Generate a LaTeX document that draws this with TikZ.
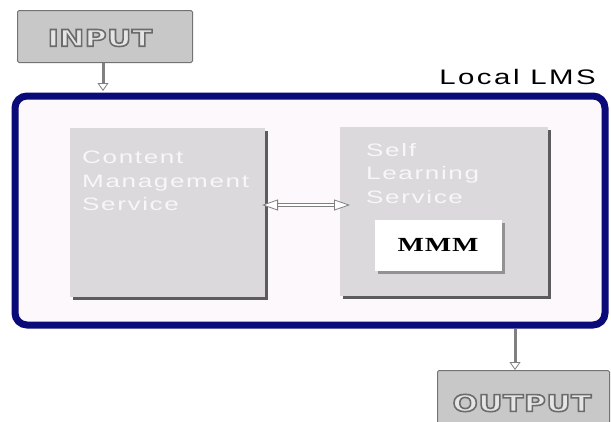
\documentclass[tikz,border=0pt]{standalone}
\usepackage{fontspec}
\setmainfont{Liberation Sans}
\newfontfamily\widefont[FakeStretch=1.4,LetterSpace=12]{Liberation Sans}
\newfontfamily\svcfont[FakeStretch=1.45,LetterSpace=9]{Liberation Sans}
\newfontfamily\iofont[FakeStretch=1.3,LetterSpace=2]{DejaVu Sans}
\newfontfamily\serifb[FakeStretch=1.4,LetterSpace=4]{Liberation Serif}
\newcommand{\outlinetext}[1]{\special{pdf:literal direct 2 Tr 1.6 w 0.42 G}#1\special{pdf:literal direct 0 Tr 0 G}}
\usetikzlibrary{arrows.meta,shadows}
\definecolor{navy}{HTML}{0A0A78}
\definecolor{boxgray}{HTML}{DCD9DC}
\definecolor{iogray}{HTML}{C8C8C8}
\definecolor{lmsfill}{HTML}{FDF8FB}
\tikzset{
  svcbox/.style={draw=none, fill=boxgray, drop shadow={shadow xshift=2.5pt, shadow yshift=-2.5pt, fill=black!70, opacity=0.9}},
  iobox/.style={draw=black!55, line width=1pt, fill=iogray, rounded corners=1.5pt},
  svctext/.style={text=white!94!gray, font=\svcfont\fontsize{18}{23.5}\selectfont, align=left, anchor=north west, inner sep=0pt},
  iotext/.style={text=white!80!gray, font=\iofont\bfseries\fontsize{23}{23}\selectfont},
  flowarrow/.style={draw=gray, line width=3pt, -{Triangle[open, length=8pt, width=11pt, fill=white, line width=0.8pt]}},
}
\begin{document}
\begin{tikzpicture}[x=1pt,y=-1pt]
\useasboundingbox (0,0) rectangle (611,421);
\fill[white] (0,0) rectangle (611,421);
% INPUT
\node[iobox, minimum width=175pt, minimum height=52pt, anchor=north west] (input) at (17,10) {};
\node[iotext] (inputtxt) at (100,38) {\outlinetext{INPUT}};
% Local LMS
\draw[navy, line width=7pt, fill=lmsfill, rounded corners=12pt] (15,96) rectangle (605,325);
\node[font=\widefont\fontsize{21}{21}\selectfont, anchor=south east, inner sep=0pt] (lmslabel) at (596,85) {Local LMS};
\coordinate (lmstop) at (103,91);
% CMS
\node[svcbox, minimum width=195pt, minimum height=169pt, anchor=north west] (cms) at (70,128) {};
\node[svctext] (cmstxt) at (82,151) {Content\\Management\\Service};
% SLS
\node[svcbox, minimum width=208pt, minimum height=169pt, anchor=north west] (sls) at (340,127) {};
\node[svctext] (slstxt) at (366,143) {Self\\Learning\\Service};
% MMM
\node[fill=white, drop shadow={shadow xshift=2.5pt, shadow yshift=-2.5pt, fill=black!70}, minimum width=127pt, minimum height=51pt, anchor=north west] (mmm) at (375,220) {};
\node[font=\serifb\bfseries\fontsize{20}{20}\selectfont] (mmmtxt) at (438,245) {MMM};
% double arrow
\coordinate (cmsr) at (262,205);
\coordinate (slsl) at (350,205);
\draw[draw=gray, line width=0.8pt, double=white, double distance=2.4pt, {Triangle[open, length=16pt, width=11pt, fill=white]}-{Triangle[open, length=16pt, width=11pt, fill=white]}] (cmsr) -- (slsl);
% input arrow
\draw[flowarrow] (input.south -| lmstop) -- (lmstop);
% OUTPUT
\node[iobox, minimum width=172pt, minimum height=60pt, anchor=north west] (output) at (437,370) {};
\node[iotext] (outputtxt) at (522,403) {\outlinetext{OUTPUT}};
\coordinate (lmsbot) at (515,329);
\draw[flowarrow] (lmsbot) -- (lmsbot |- output.north);
\end{tikzpicture}
\end{document}
